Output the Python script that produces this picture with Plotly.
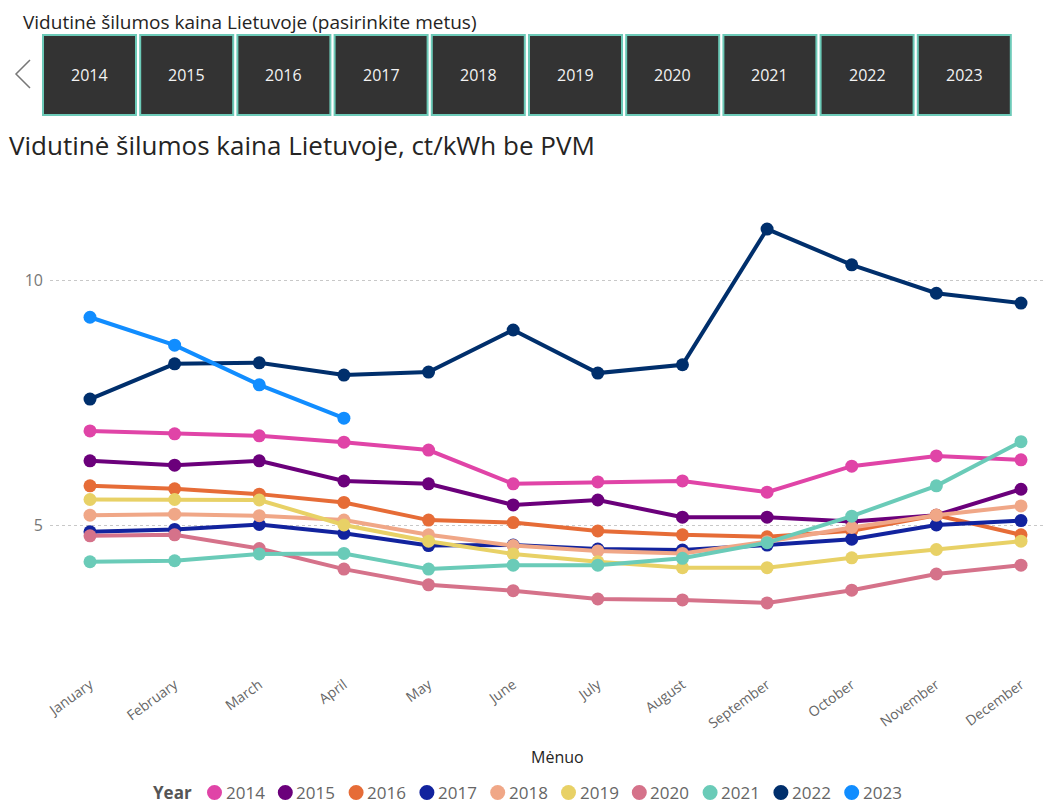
import plotly.graph_objects as go

months = ["January", "February", "March", "April", "May", "June", "July",
          "August", "September", "October", "November", "December"]
years = ["2014", "2015", "2016", "2017", "2018", "2019", "2020", "2021", "2022", "2023"]

v2014 = [6.92, 6.86, 6.82, 6.69, 6.53, 5.84, 5.88, 5.90, 5.67, 6.20, 6.41, 6.33]
v2015 = [6.31, 6.22, 6.31, 5.90, 5.84, 5.41, 5.51, 5.16, 5.16, 5.07, 5.20, 5.73]
v2016 = [5.80, 5.74, 5.63, 5.46, 5.10, 5.05, 4.88, 4.80, 4.76, 4.88, 5.20, 4.80]
v2017 = [4.86, 4.91, 5.01, 4.83, 4.58, 4.59, 4.51, 4.49, 4.59, 4.71, 5.00, 5.09]
v2018 = [5.20, 5.22, 5.19, 5.10, 4.80, 4.58, 4.47, 4.42, 4.66, 4.95, 5.20, 5.39]
v2019 = [5.52, 5.52, 5.51, 5.00, 4.67, 4.41, 4.25, 4.13, 4.13, 4.33, 4.50, 4.67]
v2020 = [4.78, 4.80, 4.52, 4.10, 3.78, 3.66, 3.49, 3.47, 3.41, 3.67, 4.00, 4.18]
v2021 = [4.25, 4.27, 4.41, 4.42, 4.10, 4.18, 4.18, 4.32, 4.64, 5.18, 5.80, 6.70]
v2022 = [7.57, 8.29, 8.31, 8.06, 8.12, 8.98, 8.10, 8.27, 11.04, 10.31, 9.73, 9.53]
v2023 = [9.24, 8.67, 7.86, 7.18]

series = [v2014, v2015, v2016, v2017, v2018, v2019, v2020, v2021, v2022, v2023]
colors = ["#E044A7", "#6B007B", "#E66C37", "#12239E", "#F0A787",
          "#E8D166", "#D5728A", "#6ACBB8", "#002F6C", "#118DFF"]

FONT = "Open Sans"
OFF = 8  # page body margin of the browser
W, H = 1053 - OFF, 807 - OFF
L, R, T, B = 50 - OFF, 10, 165 - OFF, 152
PW, PH = W - L - R, H - T - B


def px(x):
    # reference window pixel x -> paper x
    return (x - OFF - L) / PW


def py(y):
    # reference window pixel y -> paper y
    return (H - B - (y - OFF)) / PH


fig = go.Figure()
for name, vals, col in zip(years, series, colors):
    fig.add_trace(go.Scatter(
        x=months[:len(vals)], y=vals, name=name, mode="lines+markers",
        line=dict(color=col, width=4),
        marker=dict(color=col, size=13),
        showlegend=False,
    ))

shapes = []
annotations = []

# slicer header
annotations.append(dict(
    x=px(22), y=py(OFF), xref="paper", yref="paper", xanchor="left", yanchor="top",
    borderpad=0,
    text="Vidutinė šilumos kaina Lietuvoje (pasirinkite metus)", showarrow=False,
    font=dict(family=FONT, size=19, color="#252423")))

# slicer buttons
for i, yr in enumerate(years):
    x0 = 43 + 97.2 * i
    x1 = x0 + 93
    shapes.append(dict(type="rect", xref="paper", yref="paper",
                       x0=px(x0), x1=px(x1), y0=py(115), y1=py(35),
                       fillcolor="#333333", line=dict(color="#6CCAB8", width=2)))
    annotations.append(dict(
        x=px((x0 + x1) / 2), y=py(75), xref="paper", yref="paper",
        xanchor="center", yanchor="middle", text=yr, showarrow=False,
        font=dict(family=FONT, size=16, color="#F2F2F2")))

# chevron
shapes.append(dict(type="path", xref="paper", yref="paper",
                   path=f"M {px(30)} {py(60)} L {px(16)} {py(74)} L {px(30)} {py(88)}",
                   line=dict(color="#777777", width=1.5)))

# chart title
annotations.append(dict(
    x=px(7), y=py(145), xref="paper", yref="paper", xanchor="left", yanchor="middle",
    text="Vidutinė šilumos kaina Lietuvoje, ct/kWh be PVM", showarrow=False,
    font=dict(family=FONT, size=26, color="#252423")))

# x axis title
annotations.append(dict(
    x=px(557), y=py(757), xref="paper", yref="paper", xanchor="center", yanchor="middle",
    text="Mėnuo", showarrow=False,
    font=dict(family=FONT, size=16, color="#252423")))

# legend (circle + year), laid out like the reference
LEG_Y = 792.5
annotations.append(dict(
    x=px(151), y=py(LEG_Y), xref="paper", yref="paper", xanchor="left", yanchor="middle",
    text="<b>Year</b>", showarrow=False,
    font=dict(family=FONT, size=17, color="#555555")))
for i, (yr, col) in enumerate(zip(years, colors)):
    cx = 214.5 + 70.8 * i
    shapes.append(dict(type="circle", xref="paper", yref="paper",
                       x0=px(cx - 7.5), x1=px(cx + 7.5),
                       y0=py(LEG_Y + 7.5), y1=py(LEG_Y - 7.5),
                       fillcolor=col, line=dict(width=0)))
    annotations.append(dict(
        x=px(cx + 9), y=py(LEG_Y), xref="paper", yref="paper",
        xanchor="left", yanchor="middle", text=yr, showarrow=False,
        font=dict(family=FONT, size=17, color="#666666")))

fig.update_layout(
    width=W, height=H,
    margin=dict(l=L, r=R, t=T, b=B, pad=0),
    paper_bgcolor="white", plot_bgcolor="white",
    font=dict(family=FONT, color="#666666"),
    showlegend=False,
    shapes=shapes,
    annotations=annotations,
)

fig.update_xaxes(
    type="category", categoryorder="array", categoryarray=months,
    range=[-40 / 84.64, 11 + 22 / 84.64],
    tickangle=-36, tickfont=dict(size=14, color="#666666"),
    ticklabelstandoff=18,
    showgrid=False, zeroline=False, showline=False, ticks="",
)
fig.update_yaxes(
    range=[5 - 130 / 49, 5 + 360 / 49],
    tickvals=[5, 10], ticktext=["5", "10"],
    tickfont=dict(size=16, color="#777777"),
    showgrid=True, gridcolor="#C8C8C8", griddash="dot", gridwidth=1,
    zeroline=False, showline=False, ticks="", ticklabelstandoff=6,
)

fig.write_html("out.html")
